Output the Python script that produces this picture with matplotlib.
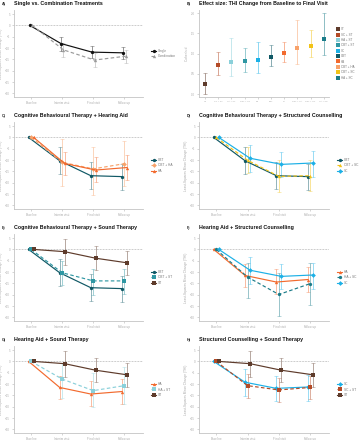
import numpy as np
import matplotlib
matplotlib.use('Agg')
from matplotlib import pyplot as plt
from matplotlib.lines import Line2D

plt.rcParams['font.family'] = ['Liberation Sans', 'DejaVu Sans']

W, H = 361, 440

# x categories of the trajectory panels
visits = ['Baseline', 'Interim visit', 'Final visit', 'Follow-up']

# least-squares mean change (THI) per visit, with lower / upper CI
single_mean = [0, -8.0, -11.8, -12.1]
single_low = [0, -11.2, -14.4, -14.7]
single_high = [0, -5.2, -9.1, -9.5]

combo_mean = [0, -10.8, -15.3, -13.6]
combo_low = [0, -13.8, -18.3, -16.7]
combo_high = [0, -7.8, -12.4, -10.9]

cbt_mean = [0, -10.3, -16.9, -17.3]
cbt_low = [0, -16.1, -22.9, -23.2]
cbt_high = [0, -4.4, -11.0, -11.7]

ha_mean = [0, -11.5, -14.4, -13.3]
ha_low = [0, -16.6, -19.9, -18.8]
ha_high = [0, -6.3, -8.6, -7.8]

sc_mean = [0, -9.2, -11.9, -11.3]
sc_low = [0, -15.1, -17.6, -17.3]
sc_high = [0, -3.4, -6.4, -5.9]

st_mean = [0, -1.0, -3.9, -5.9]
st_low = [0, -7.0, -9.1, -11.3]
st_high = [0, 4.5, 1.5, -0.5]

cbt_ha_mean = [0, -11.0, -13.9, -11.6]
cbt_ha_low = [0, -21.5, -25.5, -21.5]
cbt_ha_high = [0, -0.6, -4.2, -1.7]

cbt_sc_mean = [0, -10.1, -17.2, -16.9]
cbt_sc_low = [0, -15.8, -24.2, -23.8]
cbt_sc_high = [0, -4.3, -10.0, -10.0]

cbt_st_mean = [0, -10.3, -13.9, -13.9]
cbt_st_low = [0, -15.6, -20.0, -19.5]
cbt_st_high = [0, -5.2, -8.8, -8.6]

ha_sc_mean = [0, -12.2, -19.9, -15.1]
ha_sc_low = [0, -21.3, -29.4, -24.6]
ha_sc_high = [0, -5.9, -10.3, -5.9]

ha_st_mean = [0, -7.8, -12.9, -10.7]
ha_st_low = [0, -16.0, -20.3, -18.8]
ha_st_high = [0, -0.8, -4.9, -2.6]

sc_st_mean = [0, -10.7, -12.6, -11.5]
sc_st_low = [0, -16.2, -18.1, -16.6]
sc_st_high = [0, -5.6, -7.4, -6.3]

# effect sizes (Cohen's d) baseline -> final visit
es_labels = ['ST', 'SC + ST', 'HA + ST', 'CBT + ST', 'SC', 'CBT', 'HA',
             'CBT + HA', 'CBT + SC', 'HA + SC']
es_d = [0.25, 0.72, 0.79, 0.81, 0.84, 0.93, 1.01, 1.14, 1.20, 1.36]
es_low = [0.00, 0.48, 0.44, 0.56, 0.52, 0.70, 0.79, 0.74, 0.92, 0.98]
es_high = [0.53, 1.03, 1.38, 1.13, 1.28, 1.22, 1.29, 1.84, 1.59, 2.00]

colors = {
    'Single': '#111111', 'Combination': '#9a9a9a',
    'CBT': '#0f5865', 'HA': '#f26a2e', 'SC': '#1cb0e6', 'ST': '#5e3b2b',
    'CBT + HA': '#f8a26a', 'CBT + SC': '#f2c318', 'CBT + ST': '#2f97a3',
    'HA + SC': '#1b7c89', 'HA + ST': '#8ad0da', 'SC + ST': '#b44b27',
}
markers = {
    'Single': 'o', 'Combination': '^',
    'CBT': 'o', 'HA': '^', 'SC': 'D', 'ST': 's',
    'CBT + HA': 'D', 'CBT + SC': '^', 'CBT + ST': 's',
    'HA + SC': 'o', 'HA + ST': 's', 'SC + ST': 's',
}
series = {
    'Single': (single_mean, single_low, single_high),
    'Combination': (combo_mean, combo_low, combo_high),
    'CBT': (cbt_mean, cbt_low, cbt_high),
    'HA': (ha_mean, ha_low, ha_high),
    'SC': (sc_mean, sc_low, sc_high),
    'ST': (st_mean, st_low, st_high),
    'CBT + HA': (cbt_ha_mean, cbt_ha_low, cbt_ha_high),
    'CBT + SC': (cbt_sc_mean, cbt_sc_low, cbt_sc_high),
    'CBT + ST': (cbt_st_mean, cbt_st_low, cbt_st_high),
    'HA + SC': (ha_sc_mean, ha_sc_low, ha_sc_high),
    'HA + ST': (ha_st_mean, ha_st_low, ha_st_high),
    'SC + ST': (sc_st_mean, sc_st_low, sc_st_high),
}

AXIS_GREY = '#c4c4c4'
TEXT_GREY = '#a8a8a8'


def px_axes(fig, left, top, right, bottom):
    return fig.add_axes([left / W, 1 - bottom / H, (right - left) / W, (bottom - top) / H])


def style_axes(ax):
    for side in ['top', 'right']:
        ax.spines[side].set_visible(False)
    for side in ['left', 'bottom']:
        ax.spines[side].set_color(AXIS_GREY)
        ax.spines[side].set_linewidth(0.6)
    ax.tick_params(colors=AXIS_GREY, labelcolor=TEXT_GREY, labelsize=2.1,
                   length=1.5, width=0.5, pad=1.2)


def add_title(fig, ax, letter, title):
    bb = ax.get_position()
    y = bb.y1 + 6.5 / H
    fig.text(bb.x0 - 12 / W, y, letter, fontsize=2.6, fontweight='bold',
             color='#222222', va='center', ha='left')
    fig.text(bb.x0, y, title, fontsize=3.75, fontweight='bold',
             color='#111111', va='center', ha='left')


def trajectory_panel(fig, ax, letter, title, groups):
    style_axes(ax)
    x = np.arange(len(visits))
    n = len(groups)
    handles = []
    for i, name in enumerate(groups):
        mean, low, high = [np.array(v, dtype=float) for v in series[name]]
        off = (i - (n - 1) / 2) * 0.08
        ls = (0, (3, 2)) if ('+' in name or name == 'Combination') else '-'
        c = colors[name]
        ax.errorbar(x[1:] + off, mean[1:], yerr=[mean[1:] - low[1:], high[1:] - mean[1:]],
                    fmt='none', ecolor=c, alpha=0.45, elinewidth=0.7,
                    capsize=1.2, capthick=0.5, zorder=2)
        ax.plot(x + off, mean, color=c, ls=ls, lw=0.85, marker=markers[name],
                ms=2.4, mew=0, zorder=3)
        handles.append(Line2D([], [], color=c, ls=ls, lw=0.8,
                              marker=markers[name], ms=2.4, mew=0))
    ax.axhline(0, color='#9a9a9a', ls=(0, (1, 1.2)), lw=0.5, zorder=1)
    ax.set_xlim(-0.55, 3.6)
    ax.set_ylim(-31.6, 6.8)
    ax.set_xticks(x)
    ax.set_xticklabels(visits)
    ax.set_yticks(np.arange(-30, 6, 5))
    ax.set_ylabel('Least-Squares Mean Change (THI)', fontsize=2.3,
                  color=TEXT_GREY, labelpad=1.5)
    ax.legend(handles, groups, loc='center left', bbox_to_anchor=(1.04, 0.5),
              frameon=False, fontsize=2.3, handlelength=1.6, handletextpad=0.6,
              labelspacing=0.5, labelcolor='#777777')
    add_title(fig, ax, letter, title)


def main():
    fig = plt.figure(figsize=(W / 100, H / 100), dpi=100)

    left_col = (14, 143)
    right_col = (199, 329)
    rows = [(10, 97), (122, 209), (234, 321), (346, 433)]

    ax_a = px_axes(fig, left_col[0], rows[0][0], left_col[1], rows[0][1])
    trajectory_panel(fig, ax_a, 'A)', 'Single vs. Combination Treatments',
                     ['Single', 'Combination'])

    # effect size panel
    ax_b = px_axes(fig, right_col[0], rows[0][0], right_col[1], rows[0][1])
    style_axes(ax_b)
    xb = np.arange(len(es_labels))
    d = np.array(es_d)
    handles = []
    for i, lab in enumerate(es_labels):
        c = colors[lab]
        ax_b.errorbar(xb[i], d[i], yerr=[[d[i] - es_low[i]], [es_high[i] - d[i]]],
                      fmt='none', ecolor=c, alpha=0.5, elinewidth=0.7,
                      capsize=1.2, capthick=0.5)
        ax_b.plot(xb[i], d[i], 's', color=c, ms=2.4, mew=0)
        handles.append(Line2D([], [], color=c, marker='s', ls='none', ms=2.2, mew=0))
    ax_b.set_xlim(-0.45, len(es_labels) - 0.6)
    ax_b.set_ylim(-0.07, 2.08)
    ax_b.set_xticks(xb)
    ax_b.set_xticklabels(es_labels, fontsize=1.6)
    ax_b.set_yticks([0.0, 0.5, 1.0, 1.5, 2.0])
    ax_b.set_yticklabels(['0.0', '0.5', '1.0', '1.5', '2.0'])
    ax_b.set_ylabel("Cohen's d", fontsize=2.3, color=TEXT_GREY, labelpad=1.5)
    ax_b.legend(handles, es_labels, loc='center left', bbox_to_anchor=(1.04, 0.5),
                frameon=False, fontsize=2.2, handlelength=0.8, handletextpad=0.6,
                labelspacing=0.45, labelcolor='#777777')
    add_title(fig, ax_b, 'B)', 'Effect size: THI Change from Baseline to Final Visit')

    panels = [
        ('C)', 'Cognitive Behavioural Therapy + Hearing Aid', ['CBT', 'CBT + HA', 'HA'], 1, 0),
        ('D)', 'Cognitive Behavioural Therapy + Structured Counselling', ['CBT', 'CBT + SC', 'SC'], 1, 1),
        ('E)', 'Cognitive Behavioural Therapy + Sound Therapy', ['CBT', 'CBT + ST', 'ST'], 2, 0),
        ('F)', 'Hearing Aid + Structured Counselling', ['HA', 'HA + SC', 'SC'], 2, 1),
        ('G)', 'Hearing Aid + Sound Therapy', ['HA', 'HA + ST', 'ST'], 3, 0),
        ('H)', 'Structured Counselling + Sound Therapy', ['SC', 'SC + ST', 'ST'], 3, 1),
    ]
    for letter, title, groups, r, c in panels:
        col = left_col if c == 0 else right_col
        ax = px_axes(fig, col[0], rows[r][0], col[1], rows[r][1])
        trajectory_panel(fig, ax, letter, title, groups)

    plt.savefig('out.png', dpi=100)


if __name__ == '__main__':
    main()
